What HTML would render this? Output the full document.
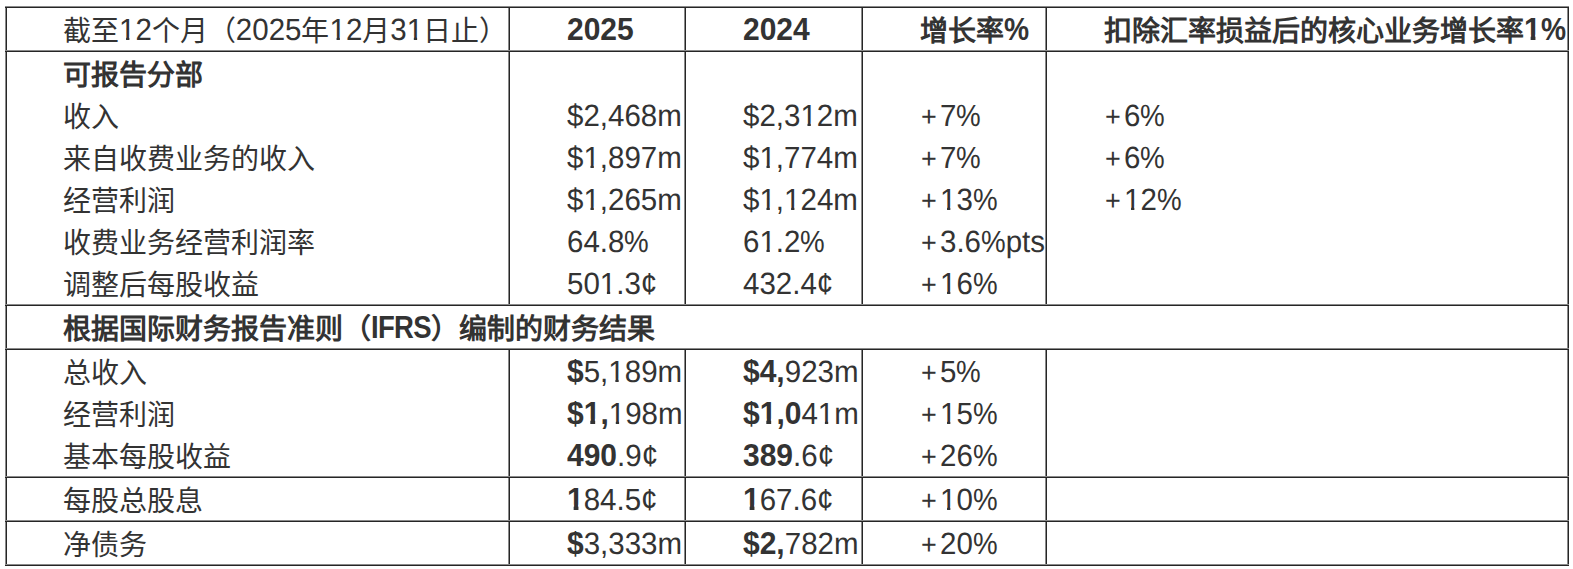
<!DOCTYPE html>
<html lang="zh-CN"><head><meta charset="utf-8"><title>table</title><style>
html,body{margin:0;padding:0;background:#fff;}
body{width:1573px;height:569px;position:relative;overflow:hidden;font-family:"Liberation Sans",sans-serif;color:#333;}
.h{position:absolute;height:1px;background:#262626;border-top:1px solid #8a8a8a;}
.v{position:absolute;width:1px;background:#262626;border-left:1px solid #8a8a8a;}
.t{position:absolute;white-space:nowrap;font-size:28px;line-height:40px;}
.t span{line-height:40px;}
.l{font-size:29.5px;display:inline-block;transform:scaleY(1.04);transform-origin:0 30.2px;text-rendering:geometricPrecision;}
.b .l,b .l{font-size:30px;transform:scaleY(1.07);transform-origin:0 30.2px;text-rendering:auto;}
.c{position:relative;top:1px;}
.b .c{font-weight:bold;}
.b,b{font-weight:bold;}
.s{display:inline-block;width:0;height:32px;}
.p{font-size:27px;position:relative;top:-0.5px;margin-left:1px;margin-right:3.2px;}
.n1{display:inline-block;clip-path:polygon(-2px -2px,18.41px -2px,18.41px 25.82px,10.38px 25.82px,10.38px 42px,7.07px 42px,7.07px 25.82px,-2px 25.82px)}
.b .n1b,b .n1b{display:inline-block;clip-path:polygon(-2px -2px,18.68px -2px,18.68px 25.13px,11.47px 25.13px,11.47px 42px,6.65px 42px,6.65px 25.13px,-2px 25.13px)}
.q{display:inline-block;transform:scaleX(0.94);transform-origin:0 0;margin-right:-1.6px;}
</style></head><body>
<div class="v" style="left:5px;top:6px;height:560px"></div>
<div class="v" style="left:1567px;top:6px;height:560px"></div>
<div class="v" style="left:508px;top:6px;height:300px"></div>
<div class="v" style="left:508px;top:348px;height:218px"></div>
<div class="v" style="left:684px;top:6px;height:300px"></div>
<div class="v" style="left:684px;top:348px;height:218px"></div>
<div class="v" style="left:861px;top:6px;height:300px"></div>
<div class="v" style="left:861px;top:348px;height:218px"></div>
<div class="v" style="left:1045px;top:6px;height:300px"></div>
<div class="v" style="left:1045px;top:348px;height:218px"></div>
<div class="h" style="left:5px;top:6px;width:1564px"></div>
<div class="h" style="left:5px;top:50px;width:1564px"></div>
<div class="h" style="left:5px;top:304px;width:1564px"></div>
<div class="h" style="left:5px;top:348px;width:1564px"></div>
<div class="h" style="left:5px;top:476px;width:1564px"></div>
<div class="h" style="left:5px;top:520px;width:1564px"></div>
<div class="h" style="left:5px;top:564px;width:1564px"></div>
<div class="t" style="left:63px;top:8px"><i class="s"></i><span class="c">截至</span><span class="l"><span class="n1">1</span>2</span><span class="c">个月（</span><span class="l">2025</span><span class="c">年</span><span class="l"><span class="n1">1</span>2</span><span class="c">月</span><span class="l">3<span class="n1">1</span></span><span class="c">日止）</span></div>
<div class="t b" style="left:567px;top:8px"><i class="s"></i><span class="l">2025</span></div>
<div class="t b" style="left:743px;top:8px"><i class="s"></i><span class="l">2024</span></div>
<div class="t b" style="left:920px;top:8px"><i class="s"></i><span class="c">增长率</span><span class="l"><span class="q">%</span></span></div>
<div class="t b" style="left:1104px;top:8px"><i class="s"></i><span class="c">扣除汇率损益后的核心业务增长率</span><span class="l"><span class="n1b">1</span><span class="q">%</span></span></div>
<div class="t b" style="left:63px;top:52px"><i class="s"></i><span class="c">可报告分部</span></div>
<div class="t" style="left:63px;top:94px"><i class="s"></i><span class="c">收入</span></div>
<div class="t" style="left:567px;top:94px"><i class="s"></i><span class="l">$2,468m</span></div>
<div class="t" style="left:743px;top:94px"><i class="s"></i><span class="l">$2,3<span class="n1">1</span>2m</span></div>
<div class="t" style="left:920px;top:94px"><i class="s"></i><span class="l"><span class="p">+</span>7<span class="q">%</span></span></div>
<div class="t" style="left:1104px;top:94px"><i class="s"></i><span class="l"><span class="p">+</span>6<span class="q">%</span></span></div>
<div class="t" style="left:63px;top:136px"><i class="s"></i><span class="c">来自收费业务的收入</span></div>
<div class="t" style="left:567px;top:136px"><i class="s"></i><span class="l">$<span class="n1">1</span>,897m</span></div>
<div class="t" style="left:743px;top:136px"><i class="s"></i><span class="l">$<span class="n1">1</span>,774m</span></div>
<div class="t" style="left:920px;top:136px"><i class="s"></i><span class="l"><span class="p">+</span>7<span class="q">%</span></span></div>
<div class="t" style="left:1104px;top:136px"><i class="s"></i><span class="l"><span class="p">+</span>6<span class="q">%</span></span></div>
<div class="t" style="left:63px;top:178px"><i class="s"></i><span class="c">经营利润</span></div>
<div class="t" style="left:567px;top:178px"><i class="s"></i><span class="l">$<span class="n1">1</span>,265m</span></div>
<div class="t" style="left:743px;top:178px"><i class="s"></i><span class="l">$<span class="n1">1</span>,<span class="n1">1</span>24m</span></div>
<div class="t" style="left:920px;top:178px"><i class="s"></i><span class="l"><span class="p">+</span><span class="n1">1</span>3<span class="q">%</span></span></div>
<div class="t" style="left:1104px;top:178px"><i class="s"></i><span class="l"><span class="p">+</span><span class="n1">1</span>2<span class="q">%</span></span></div>
<div class="t" style="left:63px;top:220px"><i class="s"></i><span class="c">收费业务经营利润率</span></div>
<div class="t" style="left:567px;top:220px"><i class="s"></i><span class="l">64.8<span class="q">%</span></span></div>
<div class="t" style="left:743px;top:220px"><i class="s"></i><span class="l">6<span class="n1">1</span>.2<span class="q">%</span></span></div>
<div class="t" style="left:920px;top:220px"><i class="s"></i><span class="l"><span class="p">+</span>3.6<span class="q">%</span>pts</span></div>
<div class="t" style="left:63px;top:262px"><i class="s"></i><span class="c">调整后每股收益</span></div>
<div class="t" style="left:567px;top:262px"><i class="s"></i><span class="l">50<span class="n1">1</span>.3¢</span></div>
<div class="t" style="left:743px;top:262px"><i class="s"></i><span class="l">432.4¢</span></div>
<div class="t" style="left:920px;top:262px"><i class="s"></i><span class="l"><span class="p">+</span><span class="n1">1</span>6<span class="q">%</span></span></div>
<div class="t b" style="left:63px;top:306px"><i class="s"></i><span class="c">根据国际财务报告准则（</span><span class="l" style="font-size:27.5px;letter-spacing:-0.7px;transform:scaleY(1.16);transform-origin:0 29.5px">IFRS</span><span class="c">）编制的财务结果</span></div>
<div class="t" style="left:63px;top:350px"><i class="s"></i><span class="c">总收入</span></div>
<div class="t" style="left:567px;top:350px"><i class="s"></i><b><span class="l">$</span></b><span class="l">5,<span class="n1">1</span>89m</span></div>
<div class="t" style="left:743px;top:350px"><i class="s"></i><b><span class="l">$4,</span></b><span class="l">923m</span></div>
<div class="t" style="left:920px;top:350px"><i class="s"></i><span class="l"><span class="p">+</span>5<span class="q">%</span></span></div>
<div class="t" style="left:63px;top:392px"><i class="s"></i><span class="c">经营利润</span></div>
<div class="t" style="left:567px;top:392px"><i class="s"></i><b><span class="l">$<span class="n1b">1</span>,</span></b><span class="l"><span class="n1">1</span>98m</span></div>
<div class="t" style="left:743px;top:392px"><i class="s"></i><b><span class="l">$<span class="n1b">1</span>,0</span></b><span class="l">4<span class="n1">1</span>m</span></div>
<div class="t" style="left:920px;top:392px"><i class="s"></i><span class="l"><span class="p">+</span><span class="n1">1</span>5<span class="q">%</span></span></div>
<div class="t" style="left:63px;top:434px"><i class="s"></i><span class="c">基本每股收益</span></div>
<div class="t" style="left:567px;top:434px"><i class="s"></i><b><span class="l">490</span></b><span class="l">.9¢</span></div>
<div class="t" style="left:743px;top:434px"><i class="s"></i><b><span class="l">389</span></b><span class="l">.6¢</span></div>
<div class="t" style="left:920px;top:434px"><i class="s"></i><span class="l"><span class="p">+</span>26<span class="q">%</span></span></div>
<div class="t" style="left:63px;top:478px"><i class="s"></i><span class="c">每股总股息</span></div>
<div class="t" style="left:567px;top:478px"><i class="s"></i><b><span class="l"><span class="n1b">1</span></span></b><span class="l">84.5¢</span></div>
<div class="t" style="left:743px;top:478px"><i class="s"></i><b><span class="l"><span class="n1b">1</span></span></b><span class="l">67.6¢</span></div>
<div class="t" style="left:920px;top:478px"><i class="s"></i><span class="l"><span class="p">+</span><span class="n1">1</span>0<span class="q">%</span></span></div>
<div class="t" style="left:63px;top:522px"><i class="s"></i><span class="c">净债务</span></div>
<div class="t" style="left:567px;top:522px"><i class="s"></i><b><span class="l">$</span></b><span class="l">3,333m</span></div>
<div class="t" style="left:743px;top:522px"><i class="s"></i><b><span class="l">$2,</span></b><span class="l">782m</span></div>
<div class="t" style="left:920px;top:522px"><i class="s"></i><span class="l"><span class="p">+</span>20<span class="q">%</span></span></div>
</body></html>
